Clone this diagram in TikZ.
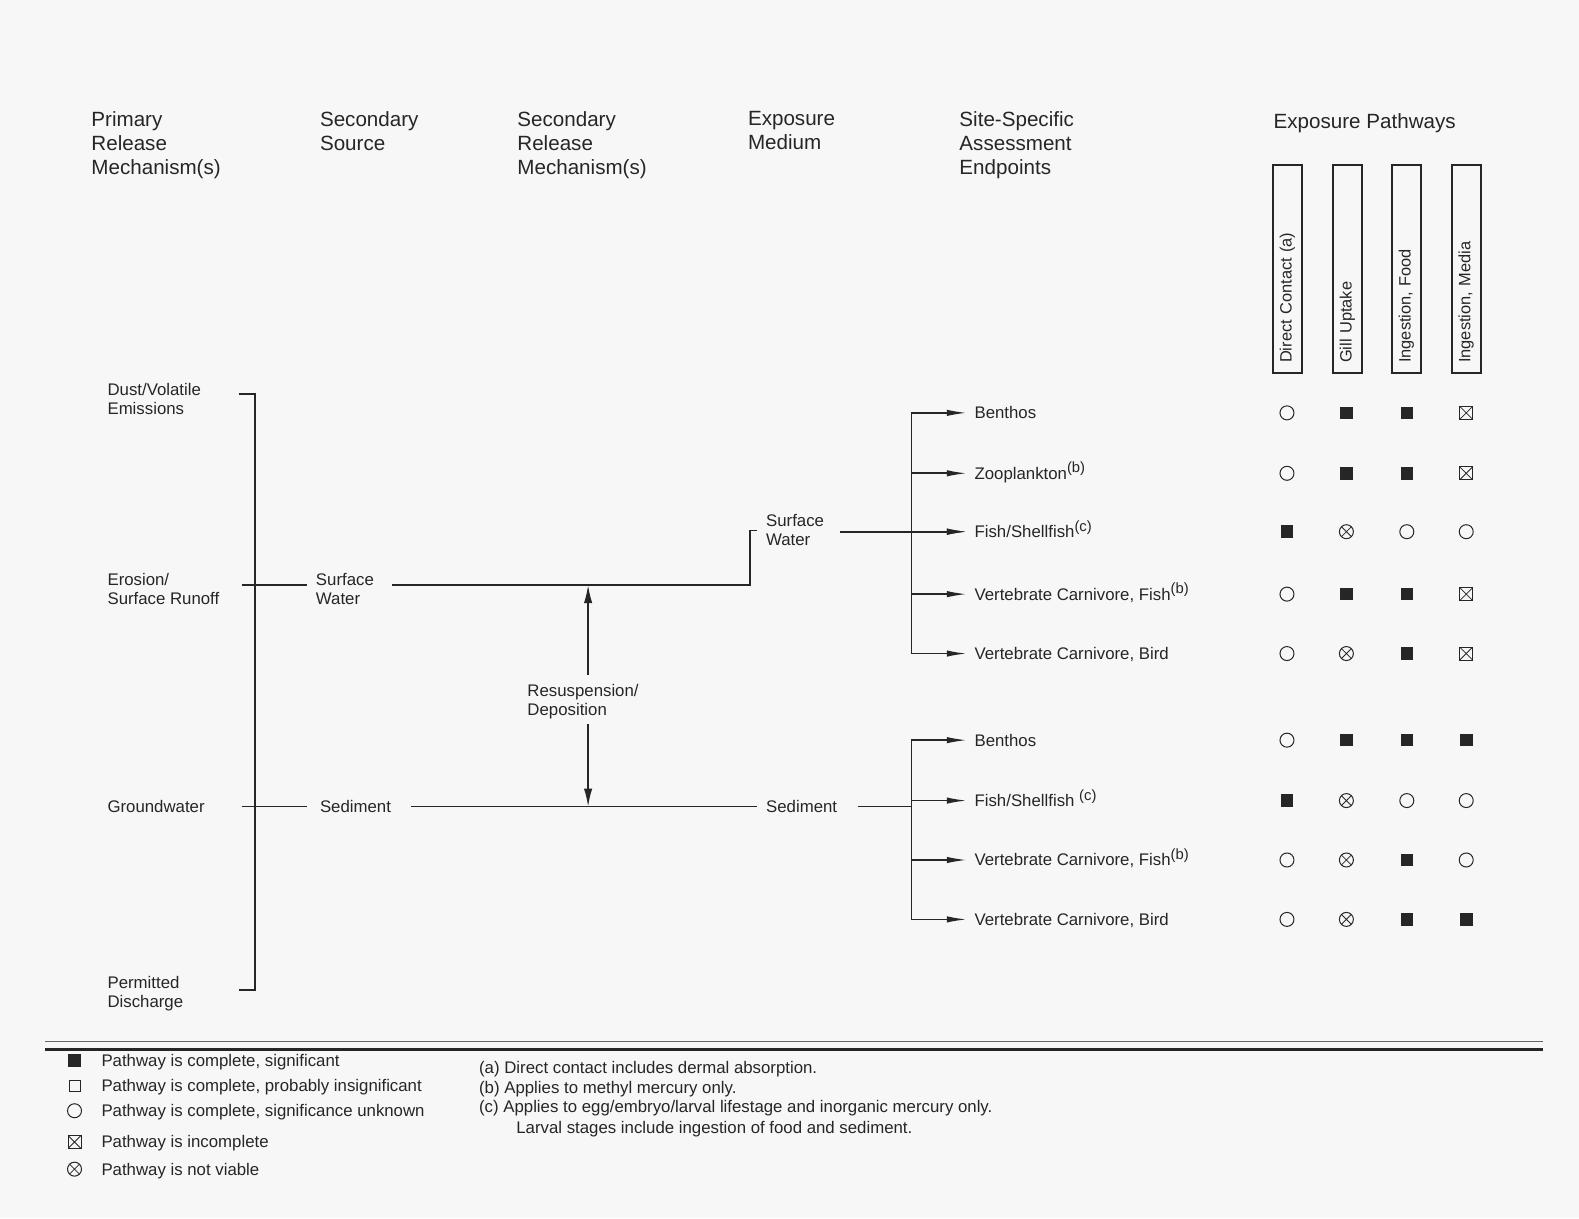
\documentclass[tikz,border=0pt]{standalone}
\usepackage{fontspec}
\setmainfont{Liberation Sans}
\usetikzlibrary{arrows.meta}
\newcommand\hdrfont{\fontsize{10.3pt}{12pt}\selectfont}
\newcommand\lblfont{\fontsize{8.4pt}{9.5pt}\selectfont}
\newcommand\boxfont{\fontsize{8.2pt}{9pt}\selectfont}
\newcommand\fnote[1]{\raisebox{3.2pt}{\fontsize{7.4pt}{8pt}\selectfont(#1)}}
\tikzset{
  hdr/.style={font=\hdrfont,anchor=north west,align=left,inner sep=0pt},
  lbl/.style={font=\lblfont,anchor=north west,align=left,inner sep=0pt},
  one/.style={font=\lblfont,anchor=west,inner sep=0pt,text height=6pt,text depth=0pt},
  flow/.style={-{Latex[length=10pt,width=3.2pt]}},
  resarr/.style={-{Latex[length=9pt,width=4.2pt]}},
  pbox/.style={draw,rotate=90,font=\boxfont,minimum height=14.5pt,text width=94pt,align=left,inner xsep=5pt,inner ysep=0pt},
  sig/.style={draw,fill=black!85,minimum size=5.8pt,inner sep=0pt},
  ins/.style={draw,minimum size=5.5pt,inner sep=0pt},
  unk/.style={draw,circle,minimum size=7pt,inner sep=0pt},
  inc/.style={draw,minimum size=6.5pt,inner sep=0pt,path picture={\draw[line width=0.4pt] (path picture bounding box.north west) -- (path picture bounding box.south east) (path picture bounding box.north east) -- (path picture bounding box.south west);}},
  nv/.style={draw,circle,minimum size=7pt,inner sep=0pt,path picture={\draw[line width=0.4pt] (path picture bounding box.north west) -- (path picture bounding box.south east) (path picture bounding box.north east) -- (path picture bounding box.south west);}}
}
\begin{document}
\begin{tikzpicture}[x=0.5035pt,y=-0.5035pt,black!85,line width=0.8pt]
\useasboundingbox (0,0) rectangle (1568,1210);
\fill[black!3] (0,0) rectangle (1568,1210);
% column heads
\node[hdr] (hprim) at (90,110) {Primary\\Release\\Mechanism(s)};
\node[hdr] (hsrc) at (317,110) {Secondary\\Source};
\node[hdr] (hrel) at (513,110) {Secondary\\Release\\Mechanism(s)};
\node[hdr] (hmed) at (742,110) {Exposure\\Medium};
\node[hdr] (hend) at (952,110) {Site-Specific\\Assessment\\Endpoints};
\node[hdr] (hpath) at (1264,112) {Exposure Pathways};
\foreach \n/\xx/\t in {pdc/1278.5/{Direct Contact (a)},pgu/1338/{Gill Uptake},pif/1396.5/{Ingestion, Food},pim/1456/{Ingestion, Media}}
  \node[pbox] (\n) at (\xx,267) {\t};
% release mechanisms and sources
\node[lbl] (dust) at (106,380) {Dust/Volatile\\Emissions};
\node[lbl] (eros) at (106,569) {Erosion/\\Surface Runoff};
\node[one] (gw) at (106,801) {Groundwater};
\node[lbl] (perm) at (106,969) {Permitted\\Discharge};
\node[lbl] (ssw) at (313,569) {Surface\\Water};
\node[one] (ssed) at (317,801) {Sediment};
\node[lbl] (resus) at (523,679) {Resuspension/\\Deposition};
\node[lbl] (msw) at (760,510) {Surface\\Water};
\node[one] (msed) at (760,801) {Sediment};
\coordinate (bkT) at (237,391); \coordinate (bkB) at (237,983);
\coordinate (bkW) at (240,581); \coordinate (bkS) at (240,801);
\coordinate (kink) at (745,581); \coordinate (mtick) at (752,527);
\coordinate (rsT) at (584,581); \coordinate (rsB) at (584,801);
\coordinate (brU) at (905,410); \coordinate (brL) at (905,735);
\draw (bkT) -- ++(16,0) |- (bkB);
\draw (bkW) -- ([xshift=-4pt]ssw.west |- bkW);
\draw (bkS) -- ([xshift=-6pt]ssed.west);
\draw ([xshift=8.5pt]ssw.east |- kink) -- (kink) -- (kink |- mtick) -- (mtick);
\draw ([xshift=9.5pt]ssed.east) -- ([xshift=-4pt]msed.west);
\draw[resarr] ([yshift=4.5pt]resus.north -| rsT) -- (rsT);
\draw[resarr] ([yshift=-2pt]resus.south -| rsB) -- (rsB);
% endpoints
\foreach \n/\yy/\t in {uben/410/{Benthos},uzoo/470/{Zooplankton\fnote{b}},ufish/528/{Fish/Shellfish\fnote{c}},ucfish/590/{Vertebrate Carnivore, Fish\fnote{b}},ucbird/649/{Vertebrate Carnivore, Bird}}
  {\node[one] (\n) at (967,\yy) {\t}; \draw[flow,shorten >=3.5pt] (\n.west -| brU) -- (\n.west);}
\foreach \n/\yy/\t in {lben/735/{Benthos},lfish/795/{Fish/Shellfish \fnote{c}},lcfish/854/{Vertebrate Carnivore, Fish\fnote{b}},lcbird/913/{Vertebrate Carnivore, Bird}}
  {\node[one] (\n) at (967,\yy) {\t}; \draw[flow,shorten >=3.5pt] (\n.west -| brL) -- (\n.west);}
\draw (brU) -- (brU |- ucbird.west);
\draw (brL) -- (brL |- lcbird.west);
\draw[flow,shorten >=3.5pt] ([xshift=7.5pt]msw.east |- ufish.west) -- (ufish.west);
\draw ([xshift=10pt]msed.east) -- (brL |- msed.east);
% pathway matrix
\foreach \r/\yy/\a/\b/\c/\d in {1/410/unk/sig/sig/inc,2/470/unk/sig/sig/inc,3/528/sig/nv/unk/unk,4/590/unk/sig/sig/inc,5/649/unk/nv/sig/inc,6/735/unk/sig/sig/sig,7/795/sig/nv/unk/unk,8/854/unk/nv/sig/unk,9/913/unk/nv/sig/sig}
  {\node[\a,line width=0.5pt] (m\r a) at (1278,\yy) {}; \node[\b,line width=0.5pt] (m\r b) at (1337,\yy) {};
   \node[\c,line width=0.5pt] (m\r c) at (1397,\yy) {}; \node[\d,line width=0.5pt] (m\r d) at (1456,\yy) {};}
% key
\draw[line width=0.6pt,black!60] (45,1034) -- (1532,1034);
\draw[line width=1.6pt] (45,1042) -- (1532,1042);
\foreach \n/\yy/\s/\t in {lg1/1053/sig/{Pathway is complete, significant},lg2/1078/ins/{Pathway is complete, probably insignificant},lg3/1103/unk/{Pathway is complete, significance unknown},lg4/1134/inc/{Pathway is incomplete},lg5/1161/nv/{Pathway is not viable}}
  {\node[\s,line width=0.5pt] (\n s) at (74,\yy) {}; \node[one] (\n) at (100,\yy) {\t};}
\node[one] (fna) at (475,1060) {(a) Direct contact includes dermal absorption.};
\node[one] (fnb) at (475,1080) {(b) Applies to methyl mercury only.};
\node[one] (fnc) at (475,1099) {(c) Applies to egg/embryo/larval lifestage and inorganic mercury only.};
\node[one] (fnd) at (512,1120) {Larval stages include ingestion of food and sediment.};
\end{tikzpicture}
\end{document}
